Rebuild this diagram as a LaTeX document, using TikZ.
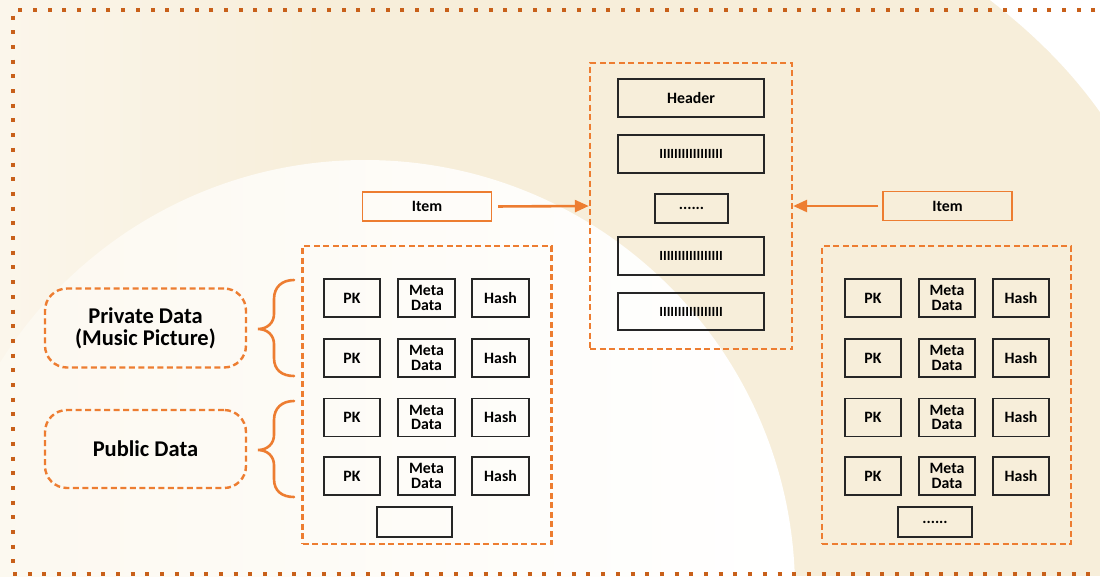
\documentclass[tikz,border=0pt]{standalone}
\usepackage{fontspec}
\setmainfont{Carlito}
\usetikzlibrary{arrows.meta}
\definecolor{orng}{HTML}{ED7D31}
\definecolor{dkorng}{HTML}{C8601A}
\definecolor{cream}{HTML}{F7EEDA}
\definecolor{lightcream}{HTML}{FBF6EB}
\definecolor{palecream}{HTML}{FCF8EF}
\tikzset{
  cell/.style={draw=black!85, line width=1.1pt, inner sep=0pt, align=center,
    font=\fontsize{15.8}{14.5}\selectfont\bfseries, text=black},
  itembox/.style={draw=orng, line width=1.3pt, inner sep=0pt, align=center,
    font=\fontsize{15.8}{15}\selectfont\bfseries, text=black},
  groupbox/.style={draw=orng, line width=2.4pt, dash pattern=on 6pt off 3.5pt, inner sep=0pt},
  labelbox/.style={draw=orng, line width=2.4pt, dash pattern=on 6pt off 3.5pt, rounded corners=22pt,
    inner sep=0pt, align=center, font=\fontsize{22.5}{22}\selectfont\bfseries, text=black},
  arr/.style={draw=orng, line width=2.6pt, -{Triangle[length=14pt,width=12pt]}},
  bracestyle/.style={draw=orng, line width=2.6pt, line cap=round},
}
\newcommand{\barsym}{{\fontsize{14}{14}\selectfont IIIIIIIIIIIIIIIII}}
\begin{document}
\begin{tikzpicture}[x=1pt,y=-1pt]
\useasboundingbox (0,0) rectangle (1100,576);
% background
\fill[cream] (0,0) rectangle (1100,576);
\shade[left color=lightcream, right color=cream] (0,0) rectangle (320,576);
\shade[left color=palecream, middle color=white, right color=white] (365,590) circle[radius=430];
\fill[white] (990,0) .. controls (1035,35) and (1070,70) .. (1100,112) -- (1100,0) -- cycle;
% outer dotted frame
\draw[dkorng, line width=4pt, dash pattern=on 4pt off 10.7pt] (1110,10) -- (13,10) -- (13,574) -- (1110,574);

% central memory block
\node[groupbox, minimum width=202pt, minimum height=286pt] (mem) at (691,206) {};
\node[cell, minimum width=146pt, minimum height=38pt] (hdr) at (691,98) {Header};
\node[cell, minimum width=146pt, minimum height=38pt] (b1) at (691,154) {\barsym};
\node[cell, minimum width=73pt, minimum height=29pt] (md) at (691.5,208.5) {......};
\node[cell, minimum width=146pt, minimum height=38pt] (b2) at (691,256) {\barsym};
\node[cell, minimum width=146pt, minimum height=37pt] (b3) at (691,311.5) {\barsym};

% items
\node[itembox, minimum width=129pt, minimum height=29pt] (itemL) at (427,206.5) {Item};
\node[itembox, minimum width=129pt, minimum height=29pt] (itemR) at (947.5,206) {Item};
\draw[arr, shorten <=6pt] (itemL.east) -- (mem.west);
\draw[arr, shorten <=4pt] (itemR.west) -- (mem.east);

% left group
\node[groupbox, minimum width=249pt, minimum height=298pt] (gl) at (427,395) {};
\foreach \r/\y in {1/298,2/358,3/417.5,4/476}{
  \node[cell, minimum width=56pt, minimum height=38pt] (lpk\r) at (352,\y) {PK};
  \node[cell, minimum width=57pt, minimum height=38pt] (lmd\r) at (426.5,\y) {Meta\\Data};
  \node[cell, minimum width=57pt, minimum height=38pt] (lh\r) at (500.5,\y) {Hash};
}
\node[cell, minimum width=75pt, minimum height=30pt] (lempty) at (414.5,522) {};

% right group
\node[groupbox, minimum width=249pt, minimum height=298pt] (gr) at (946.5,395) {};
\foreach \r/\y in {1/298,2/358,3/417.5,4/476}{
  \node[cell, minimum width=56pt, minimum height=38pt] (rpk\r) at (873,\y) {PK};
  \node[cell, minimum width=56pt, minimum height=38pt] (rmd\r) at (947,\y) {Meta\\Data};
  \node[cell, minimum width=56pt, minimum height=38pt] (rh\r) at (1021,\y) {Hash};
}
\node[cell, minimum width=74pt, minimum height=30pt] (rdots) at (935,522) {......};

% labels
\node[labelbox, minimum width=201pt, minimum height=79pt] (priv) at (145.5,328) {Private Data\\(Music Picture)};
\node[labelbox, minimum width=201pt, minimum height=78pt] (pub) at (145.5,449) {Public Data};

% braces
\draw[bracestyle] (294,280) .. controls (282,280) and (274,287) .. (274,299) -- (274,314)
  .. controls (274,323) and (267,329) .. (258,329)
  .. controls (267,329) and (274,335) .. (274,344) -- (274,358)
  .. controls (274,370) and (282,376) .. (294,376);
\draw[bracestyle] (294,401) .. controls (282,401) and (274,408) .. (274,420) -- (274,435)
  .. controls (274,444) and (267,450) .. (258,450)
  .. controls (267,450) and (274,456) .. (274,465) -- (274,479)
  .. controls (274,491) and (282,497) .. (294,497);
\end{tikzpicture}
\end{document}
